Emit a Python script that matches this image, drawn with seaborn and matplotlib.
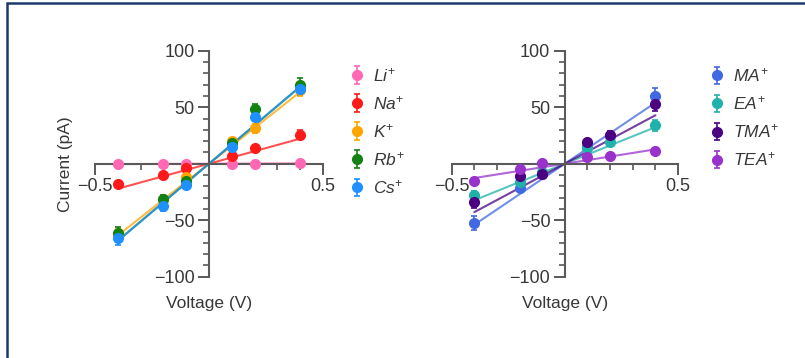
import matplotlib
matplotlib.use("Agg")
import matplotlib.pyplot as plt
import matplotlib.patches as mpatches
from matplotlib.ticker import MultipleLocator, FixedLocator
import numpy as np
import seaborn as sns

# applied voltages (V)
voltage = [-0.4, -0.2, -0.1, 0.1, 0.2, 0.4]

# left panel: alkali cations, current (pA) and error
li = [0, 0, 0, 0, 0, 1]
li_err = [2, 2, 2, 2, 2, 2]
na = [-18, -10, -4, 6.5, 14, 25.5]
na_err = [3, 2, 2, 2, 2, 4]
k = [-62, -32, -12, 20, 31.5, 65]
k_err = [5, 3, 3, 3, 4, 5]
rb = [-61, -31, -15, 18, 48, 70]
rb_err = [5, 3, 3, 3, 5, 6]
cs = [-66, -37, -19, 15, 41, 66]
cs_err = [6, 5, 3, 3, 3, 5]

# right panel: organic cations
ma = [-52.5, -21.5, -9, 16, 24.5, 60]
ma_err = [6, 3, 2, 3, 2, 7]
ea = [-28, -16, -7.5, 14, 19, 34]
ea_err = [4, 3, 2, 2, 2, 5]
tma = [-34, -11, -9.5, 19, 25.7, 53]
tma_err = [5, 3, 2, 3, 3, 6]
tea = [-15.6, -4.4, 1, 6, 6.5, 11]
tea_err = [3, 2, 2, 2, 2, 3]

left_series = [("Li", li, li_err, "#ff69b4"),
               ("Na", na, na_err, "#ff1a1a"),
               ("K", k, k_err, "#ffa500"),
               ("Rb", rb, rb_err, "#128212"),
               ("Cs", cs, cs_err, "#1e90ff")]
right_series = [("MA", ma, ma_err, "#4169e1"),
                ("EA", ea, ea_err, "#20b2aa"),
                ("TMA", tma, tma_err, "#4b0082"),
                ("TEA", tea, tea_err, "#9932cc")]

sns.set_style("ticks")
plt.rcParams["font.family"] = ["Liberation Sans", "DejaVu Sans"]
plt.rcParams["mathtext.fontset"] = "custom"
plt.rcParams["mathtext.it"] = "Liberation Sans:italic"
plt.rcParams["mathtext.rm"] = "Liberation Sans"
plt.rcParams["mathtext.bf"] = "Liberation Sans:bold"

TXT = "#383838"
AX = "#5a5a5a"
W, H = 805, 358

fig = plt.figure(figsize=(W / 100, H / 100), dpi=100)
fig.patch.set_facecolor("white")
fig.add_artist(mpatches.Rectangle((7 / W, -0.1), 1.2, 1.1 - 3 / H,
                                  transform=fig.transFigure, fill=False,
                                  edgecolor="#1c3a6b", linewidth=1.8))


def draw_panel(rect, series, leg_anchor, ylabel):
    ax = fig.add_axes(rect)
    x = np.array(voltage)
    # linear fit through the origin for each cation
    for name, vals, err, col in series:
        y = np.array(vals)
        slope = np.sum(x * y) / np.sum(x * x)
        xf = np.array([x.min(), x.max()])
        sns.lineplot(x=xf, y=slope * xf, ax=ax, color=col, lw=1.5, alpha=0.75)
    handles = []
    for name, vals, err, col in series:
        h = ax.errorbar(voltage, vals, yerr=err, fmt="o", color=col, ms=7,
                        elinewidth=1.2, capsize=2, capthick=1.2, zorder=3,
                        label="$%s^{+}$" % name)
        handles.append(h)

    ax.set_xlim(-0.5, 0.5)
    ax.set_ylim(-100, 100)
    for s in ["top", "right"]:
        ax.spines[s].set_visible(False)
    ax.spines["left"].set_position(("data", 0))
    ax.spines["bottom"].set_position(("data", 0))
    for s in ["left", "bottom"]:
        ax.spines[s].set_color(AX)
        ax.spines[s].set_linewidth(1.5)
    ax.xaxis.set_major_locator(FixedLocator([-0.5, 0.5]))
    ax.xaxis.set_minor_locator(MultipleLocator(0.1))
    ax.yaxis.set_major_locator(FixedLocator([-100, -50, 50, 100]))
    ax.yaxis.set_minor_locator(MultipleLocator(10))
    ax.set_xticklabels(["\u22120.5", "0.5"])
    ax.set_yticklabels(["\u2212100", "\u221250", "50", "100"])
    ax.tick_params(which="both", bottom=True, left=True, top=False, right=False)
    ax.tick_params(which="major", direction="out", length=8, width=1.4,
                   color=AX, labelsize=13, labelcolor=TXT, pad=2.5)
    ax.tick_params(which="minor", direction="out", length=4, width=1.2, color=AX)
    ax.set_xlabel("Voltage (V)", fontsize=12.5, color=TXT)
    ax.xaxis.set_label_coords(0.5, -0.085)
    if ylabel:
        ax.set_ylabel("Current (pA)", fontsize=12.5, color=TXT)
        ax.yaxis.set_label_coords(-0.095, 0.5)
    ax.patch.set_alpha(0)
    leg = ax.legend(handles=handles, loc="upper left", bbox_to_anchor=leg_anchor,
                    bbox_transform=fig.transFigure, frameon=False, fontsize=12.5,
                    handlelength=0.9, handletextpad=0.5, labelspacing=0.58,
                    borderpad=0, borderaxespad=0)
    for t in leg.get_texts():
        t.set_color(TXT)
    return ax


draw_panel([95 / W, 1 - 276.7 / H, 228 / W, 226 / H], left_series,
           (349 / W, 1 - 66 / H), True)
draw_panel([451.7 / W, 1 - 276.7 / H, 226.3 / W, 226 / H], right_series,
           (709 / W, 1 - 66.5 / H), False)

fig.savefig("out.png", dpi=100)
plt.close(fig)
